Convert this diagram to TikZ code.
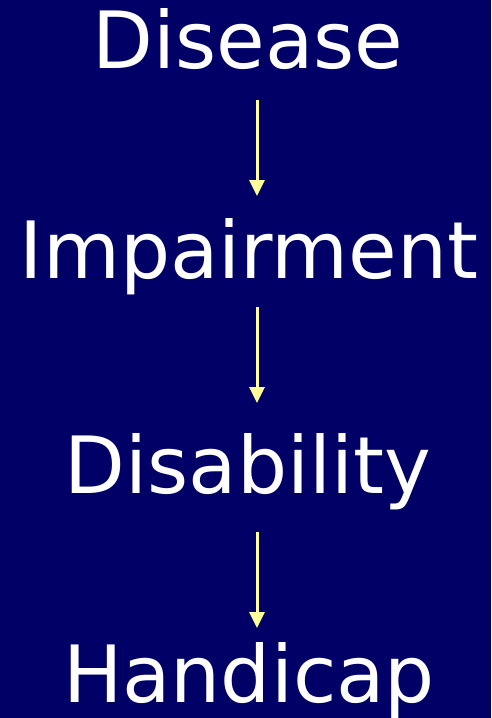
\documentclass[tikz,border=0pt]{standalone}
\usepackage{fontspec}
\setmainfont{DejaVu Sans}
\usetikzlibrary{arrows.meta}
\definecolor{bgnavy}{RGB}{0,0,102}
\definecolor{arryel}{RGB}{255,255,153}
\begin{document}
\begin{tikzpicture}[x=1pt,y=-1pt,
  lbl/.style={text=white,font=\fontsize{79}{95}\selectfont,anchor=base,inner sep=0pt},
  arr/.style={draw=arryel,line width=3pt,-{Triangle[width=15pt,length=16pt]}}]
\fill[bgnavy] (0,0) rectangle (491,718);
\useasboundingbox (0,0) rectangle (491,718);
\node[lbl] (dis) at (248,68) {Disease};
\node[lbl] (imp) at (249,278) {Impairment};
\node[lbl] (dab) at (248,493) {Disability};
\node[lbl] (han) at (249,702) {Handicap};
\coordinate (a1s) at (257,100);
\coordinate (a1e) at (257,196);
\coordinate (a2s) at (257,307);
\coordinate (a2e) at (257,403);
\coordinate (a3s) at (257,532);
\coordinate (a3e) at (257,628);
\draw[arr] (a1s) -- (a1e);
\draw[arr] (a2s) -- (a2e);
\draw[arr] (a3s) -- (a3e);
\end{tikzpicture}
\end{document}
